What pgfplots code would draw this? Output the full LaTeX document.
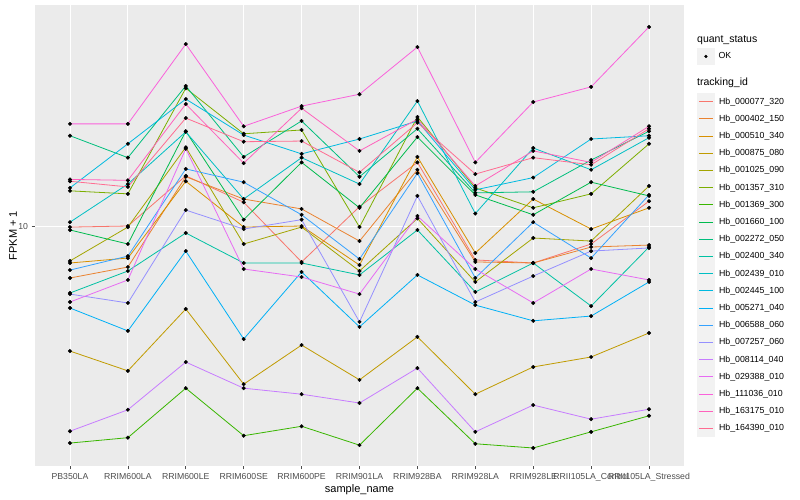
\documentclass[border=0pt]{standalone}
\usepackage{fontspec}
\setmainfont{Liberation Sans}
\usepackage{pgfplots}
\usepackage{pgfplotstable}
\pgfplotsset{compat=1.18}

% ggplot hue palette, 20 levels
\definecolor{c1}{HTML}{F8766D}
\definecolor{c2}{HTML}{EA8331}
\definecolor{c3}{HTML}{D89000}
\definecolor{c4}{HTML}{C09B00}
\definecolor{c5}{HTML}{A3A500}
\definecolor{c6}{HTML}{7CAE00}
\definecolor{c7}{HTML}{39B600}
\definecolor{c8}{HTML}{00BB4E}
\definecolor{c9}{HTML}{00BF7D}
\definecolor{c10}{HTML}{00C1A3}
\definecolor{c11}{HTML}{00BFC4}
\definecolor{c12}{HTML}{00BAE0}
\definecolor{c13}{HTML}{00B0F6}
\definecolor{c14}{HTML}{35A2FF}
\definecolor{c15}{HTML}{9590FF}
\definecolor{c16}{HTML}{C77CFF}
\definecolor{c17}{HTML}{E76BF3}
\definecolor{c18}{HTML}{FA62DB}
\definecolor{c19}{HTML}{FF62BC}
\definecolor{c20}{HTML}{FF6C91}
\definecolor{ggbg}{HTML}{EBEBEB}
\definecolor{keybg}{HTML}{F2F2F2}
\definecolor{ticktxt}{HTML}{4D4D4D}

% FPKM + 1, one row per sample, one column per tracking_id
\pgfplotstableread{
x  s1   s2   s3   s4   s5   s6   s7   s8   s9   s10  s11  s12  s13  s14  s15  s16  s17  s18  s19  s20
0  9.92 6.71 7.53 3.83 7.65 13.1 1.89 9.70 20.0 5.98 10.3 13.4 5.33 7.13 5.93 2.07 5.58 21.9 14.3 14.1
1  10.0 7.30 7.82 3.29 9.92 12.8 1.97 8.71 16.9 7.08 13.8 18.8 4.47 7.94 5.54 2.44 6.61 21.9 14.2 13.5
2  14.7 14.6 14.1 5.29 18.3 28.8 2.88 20.7 29.3 9.48 20.6 26.5 8.25 15.5 11.3 3.52 18.1 40.4 25.5 22.9
3  12.0 12.3 9.92 2.97 8.71 20.3 2.00 10.5 17.0 7.53 12.3 20.1 4.20 14.0 9.77 2.88 7.19 21.5 16.2 19.1
4  7.59 11.4 10.0 4.01 9.92 20.9 2.15 16.3 22.4 7.53 16.9 17.4 7.03 10.9 10.5 2.75 6.76 25.1 24.7 19.2
5  11.6 8.91 7.41 3.07 7.08 9.92 1.86 11.5 14.6 6.87 13.8 19.5 4.61 7.76 4.79 2.57 5.93 27.5 17.8 15.1
6  16.3 15.4 17.0 4.27 10.6 23.1 2.88 19.8 21.1 9.70 26.1 22.4 6.87 15.0 12.6 3.36 10.8 39.5 22.7 22.1
7  7.71 7.59 8.13 2.75 6.51 13.4 1.88 12.7 12.9 6.03 11.0 13.2 5.45 6.71 5.58 2.06 7.19 16.3 13.6 14.9
8  7.53 7.53 12.3 3.39 9.12 11.5 1.82 10.9 13.0 7.53 18.2 14.5 4.83 10.3 6.81 2.53 5.54 25.9 17.8 16.9
9  8.71 8.51 9.77 3.66 8.91 12.8 2.06 14.0 16.6 5.41 15.4 19.5 5.01 7.82 8.25 2.27 7.19 29.1 16.3 16.0
10 12.1 8.64 11.5 4.40 13.6 18.8 2.33 12.6 20.7 8.51 19.7 20.0 6.51 12.7 8.45 2.45 6.61 46.1 21.5 21.1
}\fpkm

\begin{document}
\begin{tikzpicture}
\useasboundingbox (-35pt,-34pt) rectangle (765pt,466pt);
\begin{axis}[
    at={(0pt,0pt)}, anchor=south west,
    scale only axis, width=649pt, height=461pt,
    xmin=-0.604, xmax=10.604,
    ymode=log, ymin=1.585, ymax=54.55,
    xtick={0,...,10},
    xticklabels={PB350LA,RRIM600LA,RRIM600LE,RRIM600SE,RRIM600PE,RRIM901LA,RRIM928BA,RRIM928LA,RRIM928LE,RRII105LA\_Control,RRII105LA\_Stressed},
    ytick={10}, yticklabels={10},
    minor tick num=0, yminorticks=false,
    xtick pos=bottom, ytick pos=left,
    axis background/.style={fill=ggbg},
    axis line style={draw=none},
    xmajorgrids, ymajorgrids,
    major grid style={white, line width=0.9pt},
    tick align=outside, major tick length=3.5pt,
    tick style={color=ticktxt, line width=0.6pt},
    ticklabel style={font=\fontsize{8.7}{10}\selectfont, text=ticktxt},
    /pgf/number format/assume math mode=true,
    xlabel={sample\_name}, ylabel={FPKM + 1},
    label style={font=\fontsize{11}{13}\selectfont},
    xlabel style={at={(axis description cs:0.5,0)}, anchor=base, yshift=-27pt},
    ylabel style={at={(axis description cs:0,0.5)}, anchor=base, yshift=18pt},
    legend cell align=left,
    legend style={at={(axis description cs:1.02003,0.8093)}, anchor=north west,
        draw=none, fill=none, inner sep=0pt, row sep=0.2pt, column sep=4pt,
        nodes={inner sep=0pt, font=\fontsize{8.8}{10}\selectfont}},
]
\pgfplotsinvokeforeach{1,...,20}{
    \addplot[color=c#1, line width=0.8pt, mark=none,
        legend image code/.code={
            \fill[keybg] (0pt,-8.1pt) rectangle (17pt,8.1pt);
            \draw[c#1, line width=0.8pt] (1.5pt,0pt) -- (15.5pt,0pt);
        }] table[x=x, y=s#1]{\fpkm};
}
\pgfplotsinvokeforeach{1,...,20}{
    \addplot[only marks, mark=*, mark size=1.8pt, black, forget plot] table[x=x, y=s#1]{\fpkm};
}
\legend{Hb\_000077\_320,Hb\_000402\_150,Hb\_000510\_340,Hb\_000875\_080,Hb\_001025\_090,
    Hb\_001357\_310,Hb\_001369\_300,Hb\_001660\_100,Hb\_002272\_050,Hb\_002400\_340,
    Hb\_002439\_010,Hb\_002445\_100,Hb\_005271\_040,Hb\_006588\_060,Hb\_007257\_060,
    Hb\_008114\_040,Hb\_029388\_010,Hb\_111036\_010,Hb\_163175\_010,Hb\_164390\_010}
\end{axis}

% second legend: quant_status
\begin{axis}[
    at={(0pt,0pt)}, anchor=south west,
    scale only axis, width=649pt, height=461pt,
    hide axis, xmin=0, xmax=1, ymin=0, ymax=1,
    legend cell align=left,
    legend style={at={(axis description cs:1.02003,0.9069)}, anchor=north west,
        draw=none, fill=none, inner sep=0pt, column sep=4pt,
        nodes={inner sep=0pt, font=\fontsize{8.8}{10}\selectfont}},
    legend image code/.code={
        \fill[keybg] (0pt,-8.1pt) rectangle (17pt,8.1pt);
        \fill[black] (8.5pt,0pt) circle (1.4pt);
    },
]
\addlegendimage{only marks, mark=*, mark size=1.4pt, black}
\addlegendentry{OK}
\end{axis}

\node[anchor=west, inner sep=0pt, font=\fontsize{10.5}{12}\selectfont] at (662pt,426pt) {quant\_status};
\node[anchor=west, inner sep=0pt, font=\fontsize{10.5}{12}\selectfont] at (662pt,383pt) {tracking\_id};
\end{tikzpicture}
\end{document}
